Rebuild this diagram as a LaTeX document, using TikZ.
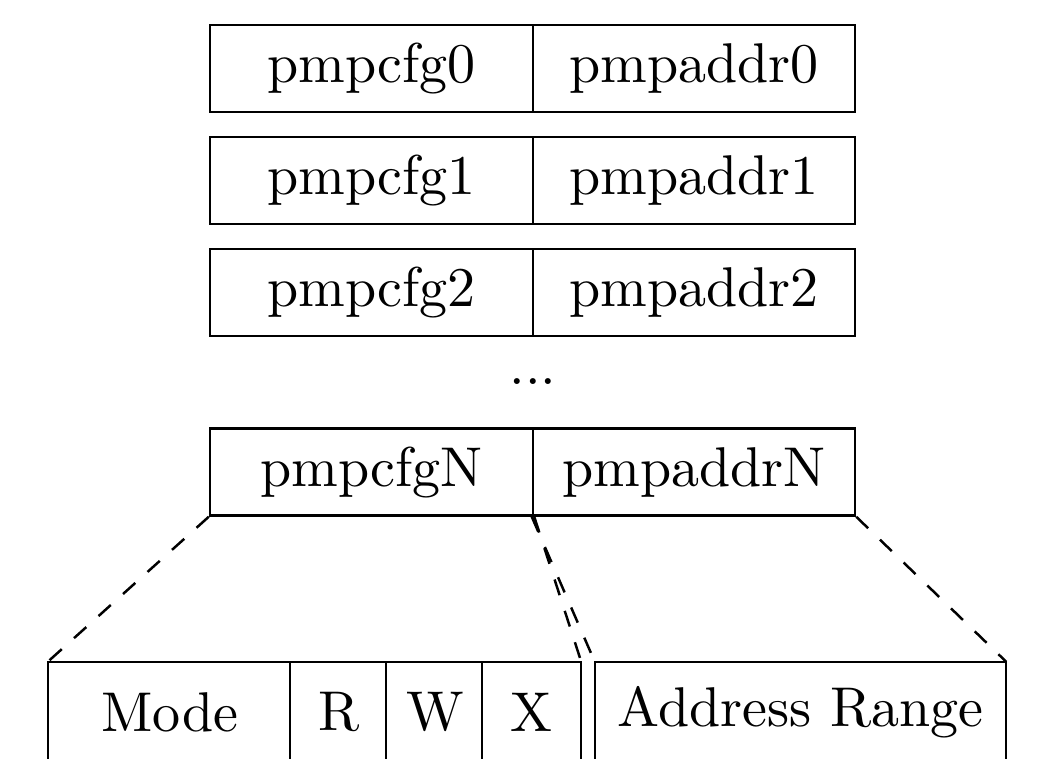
\documentclass[tikz,border=0pt]{standalone}
\begin{document}
\begin{tikzpicture}[x=0.182pt,y=-0.182pt,line width=0.45pt,
  font=\fontsize{10.2}{12}\selectfont,
  cell/.style={draw,rectangle,inner sep=0pt,minimum height=87*0.182pt},
  cfgcell/.style={cell,minimum width=323*0.182pt},
  addrcell/.style={cell,minimum width=322*0.182pt},
  field/.style={rectangle,inner sep=0pt,minimum height=98*0.182pt},
  zoomline/.style={dash pattern=on 3pt off 3pt}]
\clip (0,0) rectangle (1040,758);
% register rows
\node[cfgcell]  (cfg0)  at (371.5,68.5) {pmpcfg0};
\node[addrcell] (addr0) at (694,68.5)   {pmpaddr0};
\node[cfgcell]  (cfg1)  at (371.5,180.5) {pmpcfg1};
\node[addrcell] (addr1) at (694,180.5)   {pmpaddr1};
\node[cfgcell]  (cfg2)  at (371.5,292.5) {pmpcfg2};
\node[addrcell] (addr2) at (694,292.5)   {pmpaddr2};
\node[inner sep=0pt] (dots) at (533,382) {...};
\node[cfgcell]  (cfgN)  at (371.5,472) {pmpcfgN};
\node[addrcell] (addrN) at (694,472)   {pmpaddrN};
% fields
\node[field,minimum width=242*0.182pt] (mode) at (170,712) {Mode};
\node[field,minimum width=96*0.182pt]  (r)    at (339,712) {R};
\node[field,minimum width=96*0.182pt]  (w)    at (435,712) {W};
\node[field,minimum width=97*0.182pt]  (x)    at (531.5,712) {X};
\node[field,minimum width=409*0.182pt] (range) at (800.5,712) {Address Range};
\draw (mode.south west) -- (mode.north west) -- (x.north east) -- (x.south east);
\draw (r.north west) -- (r.south west);
\draw (w.north west) -- (w.south west);
\draw (x.north west) -- (x.south west);
\draw (range.south west) -- (range.north west) -- (range.north east) -- (range.south east);
% zoom connectors
\draw[zoomline] (cfgN.south west) -- (mode.north west);
\draw[zoomline] (cfgN.south east) -- (x.north east);
\draw[zoomline] (addrN.south west) -- (range.north west);
\draw[zoomline] (addrN.south east) -- (range.north east);
\end{tikzpicture}
\end{document}
